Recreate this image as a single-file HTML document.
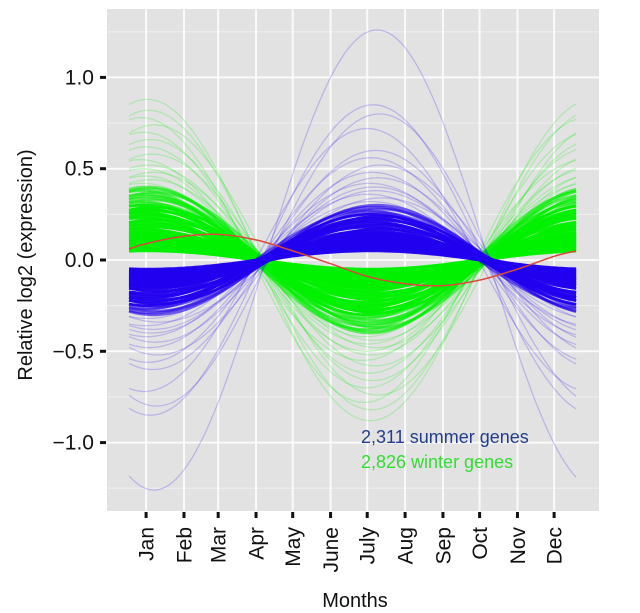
<!DOCTYPE html>
<html><head><meta charset="utf-8">
<style>
html,body{margin:0;padding:0;background:#fff;}
svg{display:block;font-family:"Liberation Sans",sans-serif;}
</style></head>
<body>
<svg id="chart" width="640" height="613" viewBox="0 0 640 613">
  <rect x="107" y="9" width="492" height="502" fill="#e2e2e2"/>
  <g id="grid"></g>
  <g id="green"></g>
  <g id="blue"></g>
  <g id="red"></g>
  <g id="axes"></g>
  <text x="361" y="443" font-size="18" fill="#243d8a">2,311 summer genes</text>
  <text x="361" y="468" font-size="18" fill="#33dd33">2,826 winter genes</text>
  <text x="355" y="607" font-size="20" text-anchor="middle" fill="#111">Months</text>
  <text transform="translate(32,265) rotate(-90)" font-size="20" text-anchor="middle" fill="#111">Relative log2 (expression)</text>
</svg>
<script>
const months = ["Jan","Feb","Mar","Apr","May","June","July","Aug","Sep","Oct","Nov","Dec"];
const monthDays = [15,46,74,105,135,166,196,227,258,288,319,349];
const yTicks = [-1.0,-0.5,0.0,0.5,1.0];
const yTickLabels = ["\u22121.0","\u22120.5","0.0","0.5","1.0"];
const greenAmps = [0.05,0.055,0.06,0.065,0.07,0.075,0.08,0.085,0.09,0.095,0.10,0.105,0.11,0.115,0.12,0.125,0.13,0.135,0.14,0.145,0.15,0.16,0.17,0.18,0.19,0.20,0.21,0.22,0.23,0.24,0.25,0.26,0.27,0.28,0.29,0.30,0.31,0.32,0.33,0.34,0.35,0.36,0.37,0.38,0.39,0.40,0.42,0.44,0.46,0.48,0.50,0.52,0.55,0.58,0.62,0.66,0.7,0.74,0.78,0.82,0.88];
const blueAmps = [0.05,0.055,0.06,0.065,0.07,0.075,0.08,0.085,0.09,0.095,0.10,0.105,0.11,0.115,0.12,0.125,0.13,0.135,0.14,0.145,0.15,0.16,0.17,0.18,0.19,0.20,0.21,0.22,0.23,0.24,0.25,0.26,0.27,0.28,0.29,0.30,0.32,0.34,0.36,0.38,0.40,0.42,0.45,0.48,0.52,0.56,0.6,0.72,0.8,0.85,1.26];
const phaseOffsets = [0,-4,3,-2,5,-3,1,-6,4,-1,2,-3,6,-5,1];
const redDays = [1,15,46,74,105,135,166,196,227,258,288,319,349,367];
const redValues = [0.06,0.09,0.13,0.14,0.11,0.05,-0.02,-0.09,-0.13,-0.14,-0.11,-0.05,0.02,0.05];
const greenPeakDay = 16;
const bluePeakDay = 202;

const NS="http://www.w3.org/2000/svg";
const X0=107,X1=599,Y0=9,Y1=511;
function xs(d){return 129+(d-1)*1.2216;}
function ys(v){return 260-v*182.6;}
function mk(tag,attrs,parent){const e=document.createElementNS(NS,tag);for(const k in attrs)e.setAttribute(k,attrs[k]);parent.appendChild(e);return e;}
const grid=document.getElementById('grid');
const minorVals=[-1.25,-0.75,-0.25,0.25,0.75,1.25];
for(const v of minorVals){
  const l=mk('line',{x1:X0,x2:X1,y1:ys(v),y2:ys(v),stroke:'#efefef','stroke-width':1},grid);
  
  
}
for(const v of yTicks){
  const l=mk('line',{x1:X0,x2:X1,y1:ys(v),y2:ys(v),stroke:'#fafafa','stroke-width':2},grid);
  
  
}
for(const d of monthDays){
  const l=mk('line',{x1:xs(d),x2:xs(d),y1:Y0,y2:Y1,stroke:'#fafafa','stroke-width':2},grid);
  
  
}
function cosPath(amp,peak){
  let d='';
  for(let t=1;t<=367;t+=3){
    const v=amp*Math.cos(2*Math.PI*(t-peak)/365);
    d+=(t===1?'M':'L')+xs(t).toFixed(1)+','+ys(v).toFixed(1);
  }
  return d;
}
const gG=document.getElementById('green');
greenAmps.forEach((a,i)=>{
  const core=a<=0.40;
  const op=a<=0.3?0.95:(core?0.6:0.22);
  const p=mk('path',{d:cosPath(a,greenPeakDay+phaseOffsets[i%phaseOffsets.length]),fill:'none',stroke:'#00f000','stroke-width':core?2.8:1.3,'stroke-opacity':op},gG);
  
  
});
const gB=document.getElementById('blue');
blueAmps.forEach((a,i)=>{
  const core=a<=0.30;
  const op=a<=0.25?0.95:(core?0.6:0.2);
  const p=mk('path',{d:cosPath(a,bluePeakDay+phaseOffsets[(i+5)%phaseOffsets.length]),fill:'none',stroke:'#2200ee','stroke-width':core?2.8:1.3,'stroke-opacity':op},gB);
  
  
});
const gR=document.getElementById('red');
const pts=redDays.map((d,i)=>[xs(d),ys(redValues[i])]);
let rd='M'+pts[0][0]+','+pts[0][1];
for(let i=0;i<pts.length-1;i++){
  const p0=pts[Math.max(0,i-1)],p1=pts[i],p2=pts[i+1],p3=pts[Math.min(pts.length-1,i+2)];
  const c1=[p1[0]+(p2[0]-p0[0])/6,p1[1]+(p2[1]-p0[1])/6];
  const c2=[p2[0]-(p3[0]-p1[0])/6,p2[1]-(p3[1]-p1[1])/6];
  rd+='C'+c1[0].toFixed(1)+','+c1[1].toFixed(1)+' '+c2[0].toFixed(1)+','+c2[1].toFixed(1)+' '+p2[0].toFixed(1)+','+p2[1].toFixed(1);
}
const rp=mk('path',{d:rd,fill:'none',stroke:'#d94a3a','stroke-width':1.5},gR);


const ax=document.getElementById('axes');
yTicks.forEach((v,i)=>{
  const t=mk('line',{x1:100,x2:106,y1:ys(v),y2:ys(v),stroke:'#111','stroke-width':3},ax);
  
  
  const tx=mk('text',{x:94,y:ys(v)+7,'font-size':21,'text-anchor':'end',fill:'#111'},ax);
  tx.textContent=yTickLabels[i];
  
  
});
monthDays.forEach((d,i)=>{
  const x=xs(d);
  const t=mk('line',{x1:x,x2:x,y1:512,y2:518,stroke:'#111','stroke-width':3},ax);
  
  
  const tx=mk('text',{transform:'translate('+(x+7.5)+',527) rotate(-90)','font-size':21,'text-anchor':'end',fill:'#111'},ax);
  tx.textContent=months[i];
  
  
});
</script>
</body></html>
